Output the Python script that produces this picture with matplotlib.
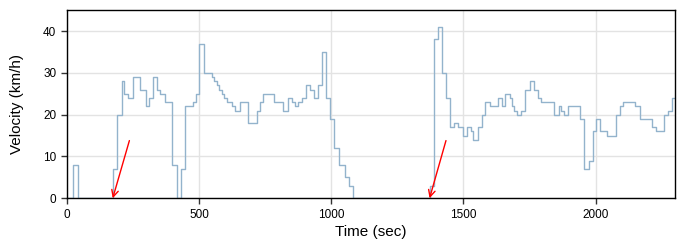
import matplotlib
matplotlib.use("Agg")
import matplotlib.pyplot as plt

plt.rcParams["font.family"] = ["Liberation Sans", "DejaVu Sans"]

# step starts (sec) and velocity held from that time on (km/h)
time_s = [0, 25, 42, 176, 192, 208, 217, 233, 250, 277, 300, 313, 328, 340,
          353, 372, 397, 416, 431, 448, 477, 489, 502, 520, 548, 557, 567,
          577, 586, 596, 605, 624, 637, 656, 687, 719, 729, 744, 784, 817,
          838, 851, 864, 876, 891, 905, 920, 935, 952, 964, 981, 994, 1009,
          1028, 1053, 1069, 1084, 1372, 1387, 1404, 1419, 1435, 1450, 1465,
          1481, 1498, 1513, 1529, 1538, 1555, 1570, 1583, 1599, 1630, 1646,
          1658, 1675, 1684, 1690, 1703, 1718, 1734, 1750, 1766, 1781, 1793,
          1844, 1860, 1869, 1879, 1894, 1942, 1957, 1974, 1989, 2001, 2015,
          2043, 2078, 2091, 2104, 2150, 2169, 2213, 2230, 2257, 2273, 2289,
          2300]
velocity = [0, 8, 0, 7, 20, 28, 25, 24, 29, 26, 22, 24, 29, 26,
            25, 23, 8, 0, 7, 22, 23, 25, 37, 30, 29, 28, 27,
            26, 25, 24, 23, 22, 21, 23, 18, 21, 23, 25, 23, 21,
            24, 23, 22, 23, 24, 27, 26, 24, 27, 35, 24, 19, 12,
            8, 5, 3, 0, 3, 38, 41, 30, 24, 17, 18,
            17, 15, 17, 16, 14, 17, 20, 23, 22, 24, 22,
            25, 24, 22, 21, 20, 21, 26, 28, 26, 24, 23,
            20, 22, 21, 20, 22, 19, 7, 9, 16, 19, 16,
            15, 20, 22, 23, 22, 19, 17, 16, 20, 21, 24,
            24]

# red arrows: (tail x, tail y) -> (tip x, tip y)
arrows = [((237, 13.8), (174, 0)), ((1434, 13.8), (1372, 0))]

fig = plt.figure(figsize=(7, 2.5), dpi=100)
ax = fig.add_axes([0.0953, 0.207, 0.869, 0.752])

ax.step(time_s, velocity, where="post", color="#93b3cc", lw=1.0, zorder=2)

for (tx, ty), (hx, hy) in arrows:
    ax.annotate("", xy=(hx, hy), xytext=(tx, ty),
                arrowprops=dict(arrowstyle="->", color="red", lw=1.0,
                                shrinkA=0, shrinkB=0, mutation_scale=12),
                annotation_clip=False, zorder=4)

ax.set_xlim(0, 2300)
ax.set_ylim(0, 45)
ax.set_xticks([0, 500, 1000, 1500, 2000])
ax.set_yticks([0, 10, 20, 30, 40])
ax.grid(True, color="#e3e3e3", lw=1.0)
ax.set_axisbelow(True)
ax.tick_params(labelsize=8.5, length=4, width=1, color="#333333")
for sp in ax.spines.values():
    sp.set_color("black")
    sp.set_linewidth(1.0)
    sp.set_zorder(3)

ax.set_xlabel("Time (sec)", fontsize=11, labelpad=3)
ax.set_ylabel("Velocity (km/h)", fontsize=11, labelpad=14)

fig.savefig("out.png", dpi=100)
